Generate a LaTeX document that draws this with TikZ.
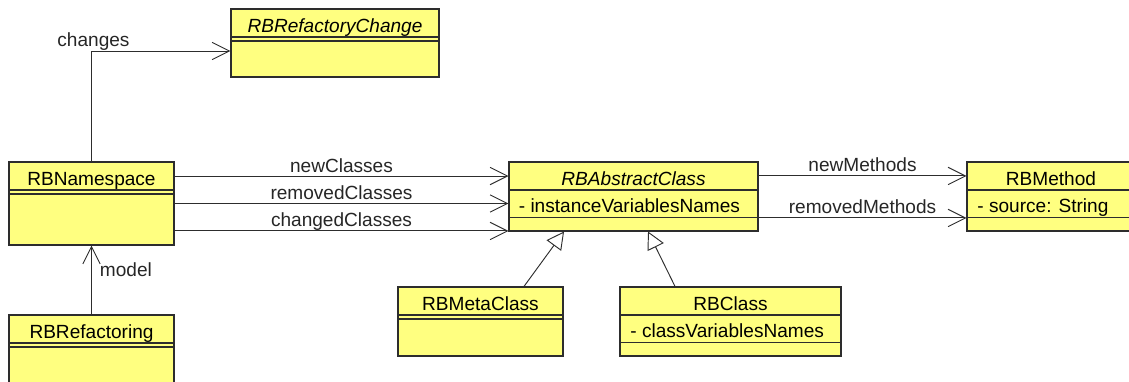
\documentclass[tikz,border=0pt]{standalone}
\usepackage{fontspec}
\setmainfont{Liberation Sans}
\usetikzlibrary{arrows.meta}

\definecolor{classfill}{RGB}{255,255,128}
\definecolor{umlline}{RGB}{45,45,45}

\tikzset{
  classbox/.style={draw=umlline,fill=classfill,line width=0.8pt,inner sep=0pt},
  sepline/.style={draw=umlline,line width=0.8pt},
  classname/.style={anchor=base,inner sep=0pt},
  member/.style={anchor=base west,inner sep=0pt},
  rolelabel/.style={anchor=base,inner sep=0pt,text=black!85},
  assoc/.style={draw=umlline,line width=0.7pt,
    -{Straight Barb[length=13pt,width=13pt,line width=0.7pt]}},
  inherit/.style={draw=umlline,line width=0.7pt,
    -{Triangle[open,length=13pt,width=13.5pt,line width=0.7pt,fill=white]}}
}

% horizontal compartment line, #2 below the top edge of box #1
\newcommand{\compline}[2]{%
  \draw[sepline] ([yshift=-#2]#1.north west) -- ([yshift=-#2]#1.north east);}

\begin{document}
\begin{tikzpicture}[x=0.75pt,y=0.75pt,line join=miter,
                    font=\fontsize{14.3pt}{16pt}\selectfont]
  \useasboundingbox (0,0) rectangle (1129,382);

  % Class boxes (centre at, size in pt).
  \node[classbox,minimum width=156pt,minimum height=51pt] (rc) at (335,339) {};
  \node[classbox,minimum width=123.75pt,minimum height=62.25pt] (ns) at (91.5,178.5) {};
  \node[classbox,minimum width=186.75pt,minimum height=51.75pt] (ac) at (633.5,185.5) {};
  \node[classbox,minimum width=126pt,minimum height=51.75pt] (me) at (1051,185.5) {};
  \node[classbox,minimum width=123.75pt,minimum height=51.75pt] (mc) at (480.5,60.5) {};
  \node[classbox,minimum width=165.75pt,minimum height=51.75pt] (cl) at (730.5,60.5) {};
  \node[classbox,minimum width=123.75pt,minimum height=63.75pt] (rf) at (91.5,24.5) {};

  % Compartments: double line where there are no attributes.
  \foreach \c in {rc,ns,mc,rf}{
    \compline{\c}{21.4pt}
    \compline{\c}{24.4pt}
  }
  \foreach \c in {ac,me,cl}{
    \compline{\c}{21.4pt}
    \compline{\c}{42pt}
  }

  % Class names and attributes.
  \node[classname] (rc-name) at ([yshift=-18.4pt]rc.north) {\itshape RBRefactoryChange};
  \node[classname] (ns-name) at ([yshift=-18.4pt]ns.north) {RBNamespace};
  \node[classname] (ac-name) at ([yshift=-18.4pt]ac.north) {\itshape RBAbstractClass};
  \node[classname] (me-name) at ([yshift=-18.4pt]me.north) {RBMethod};
  \node[classname] (mc-name) at ([yshift=-18.4pt]mc.north) {RBMetaClass};
  \node[classname] (cl-name) at ([yshift=-18.4pt]cl.north) {RBClass};
  \node[classname] (rf-name) at ([yshift=-18.4pt]rf.north) {RBRefactoring};

  \node[member] (ac-attr) at ([xshift=7.6pt,yshift=-38.6pt]ac.north west)
    {- instanceVariablesNames};
  \node[member] (me-attr) at ([xshift=8pt,yshift=-38.6pt]me.north west)
    {- source: String};
  \node[member] (cl-attr) at ([xshift=8pt,yshift=-38.6pt]cl.north west)
    {- classVariablesNames};

  % Associations.
  \draw[assoc] (ns.north) |- ([yshift=-6pt]rc.west)
    node[rolelabel,pos=0.5,yshift=3pt,xshift=1.5pt] (changes-lbl) {changes};
  \draw[assoc] ([yshift=20.6pt]ns.east) -- ([yshift=20.6pt]ns.east -| ac.west)
    node[rolelabel,midway,yshift=3pt] (newcls-lbl) {newClasses};
  \draw[assoc] (ns.east) -- (ns.east -| ac.west)
    node[rolelabel,midway,yshift=3pt] (remcls-lbl) {removedClasses};
  \draw[assoc] ([yshift=-20.6pt]ns.east) -- ([yshift=-20.6pt]ns.east -| ac.west)
    node[rolelabel,midway,yshift=3pt] (chgcls-lbl) {changedClasses};
  \draw[assoc] ([yshift=15.4pt]ac.east) -- ([yshift=15.4pt]ac.east -| me.west)
    node[rolelabel,midway,yshift=3pt] (newmth-lbl) {newMethods};
  \draw[assoc] ([yshift=-16.1pt]ac.east) -- ([yshift=-16.1pt]ac.east -| me.west)
    node[rolelabel,midway,yshift=3.7pt] (remmth-lbl) {removedMethods};
  \draw[assoc] (rf.north) -- (ns.south)
    node[pos=0.557,anchor=base west,xshift=6pt,inner sep=0pt,text=black!85]
      (model-lbl) {model};

  % Generalisations.
  \draw[inherit] ([xshift=32.6pt]mc.north) -- ([xshift=-52.1pt]ac.south);
  \draw[inherit] ([xshift=-41.6pt]cl.north) -- ([xshift=10.9pt]ac.south);
\end{tikzpicture}
\end{document}
